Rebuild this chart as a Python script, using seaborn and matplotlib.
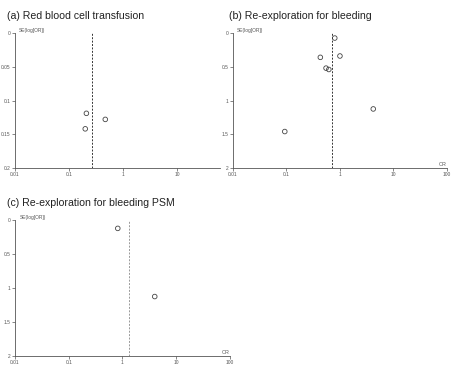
import matplotlib
matplotlib.use('Agg')
import matplotlib.pyplot as plt
import seaborn as sns
import pandas as pd

# (a) Red blood cell transfusion
a_or = [0.21, 0.20, 0.47]
a_se = [0.119, 0.142, 0.128]
a_pooled = 0.27

# (b) Re-exploration for bleeding
b_or = [0.80, 0.43, 1.0, 0.55, 0.62, 4.2, 0.093]
b_se = [0.074, 0.36, 0.34, 0.52, 0.54, 1.125, 1.46]
b_pooled = 0.72

# (c) Re-exploration for bleeding PSM
c_or = [0.82, 4.0]
c_se = [0.123, 1.125]
c_pooled = 1.3

x_ticks = [0.01, 0.1, 1, 10, 100]
x_labels = ['0.01', '0.1', '1', '10', '100']

sns.set_style('white')
plt.rcParams['font.family'] = ['Liberation Sans', 'DejaVu Sans']

fig = plt.figure(figsize=(4.6, 3.8), dpi=100)


def funnel(rect, ors, ses, pooled, ymax, yticks, ylabels, title, xmax=100,
           show_or=True, line_style='--', line_color='#333333', title_x=None):
    ax = fig.add_axes(rect)
    df = pd.DataFrame({'OR': ors, 'SE': ses})
    sns.scatterplot(data=df, x='OR', y='SE', ax=ax, s=11, marker='o',
                    facecolor='none', edgecolor='#444444', linewidth=0.6)
    ax.set_xscale('log')
    ax.set_xlim(0.01, xmax)
    ax.set_ylim(ymax, 0)
    ax.axvline(pooled, color=line_color, ls=line_style, lw=0.7, dashes=(2, 1.5))
    ax.set_xticks([t for t in x_ticks if t <= xmax])
    ax.set_xticklabels([l for t, l in zip(x_ticks, x_labels) if t <= xmax])
    ax.minorticks_off()
    ax.set_yticks(yticks)
    ax.set_yticklabels(ylabels)
    ax.tick_params(labelsize=3.5, colors='#555555', length=2, width=0.5,
                   pad=1, bottom=True, left=True)
    ax.set_xlabel('')
    ax.set_ylabel('')
    for s in ['top', 'right']:
        ax.spines[s].set_visible(False)
    for s in ['left', 'bottom']:
        ax.spines[s].set_color('#555555')
        ax.spines[s].set_linewidth(0.6)
    ax.text(0.02, 1.0, 'SE(log[OR])', transform=ax.transAxes, fontsize=3.5,
            color='#555555', va='bottom', ha='left')
    if show_or:
        ax.text(1.0, 0.01, 'OR', transform=ax.transAxes, fontsize=3.8,
                color='#555555', va='bottom', ha='right')
    tx = rect[0] - 0.018 if title_x is None else title_x
    fig.text(tx, rect[1] + rect[3] + 0.045, title, fontsize=7.6,
             color='#222222', va='center', ha='left')
    return ax


funnel([0.0326, 0.558, 0.446, 0.355], a_or, a_se, a_pooled, 0.2,
       [0, 0.05, 0.1, 0.15, 0.2], ['0', '0.05', '0.1', '0.15', '0.2'],
       '(a) Red blood cell transfusion', xmax=63, show_or=False)
funnel([0.5065, 0.558, 0.465, 0.355], b_or, b_se, b_pooled, 2,
       [0, 0.5, 1, 1.5, 2], ['0', '0.5', '1', '1.5', '2'],
       '(b) Re-exploration for bleeding', title_x=0.497)
funnel([0.0326, 0.063, 0.467, 0.358], c_or, c_se, c_pooled, 2,
       [0, 0.5, 1, 1.5, 2], ['0', '0.5', '1', '1.5', '2'],
       '(c) Re-exploration for bleeding PSM', line_style=':', line_color='#999999')

fig.savefig('out.png', dpi=100)
